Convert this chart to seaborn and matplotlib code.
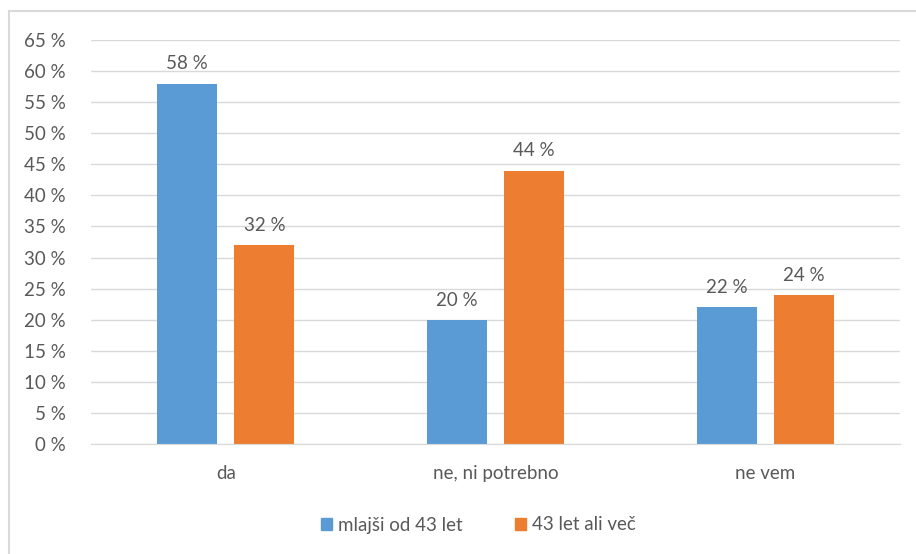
import pandas as pd
import matplotlib.pyplot as plt
import seaborn as sns
from matplotlib.patches import Rectangle, Patch

# data
categories = ['da', 'ne, ni potrebno', 'ne vem']
groups = ['mlajši od 43 let', '43 let ali več']
young = [58, 20, 22]
older = [32, 44, 24]
yticks = list(range(0, 70, 5))

df = pd.DataFrame({
    'odgovor': categories * 2,
    'skupina': [groups[0]] * 3 + [groups[1]] * 3,
    'delez': young + older,
})

sns.set_style('white')
plt.rcParams['font.family'] = ['Lato', 'DejaVu Sans']
grey = '#595959'
colors = ['#5B9BD5', '#ED7D31']
fs = 13.5

fig = plt.figure(figsize=(9.16, 5.54), dpi=100)
ax = fig.add_axes([91 / 916, 1 - 444 / 554, 809 / 916, 404 / 554])

sns.barplot(data=df, x='odgovor', y='delez', hue='skupina', order=categories,
            hue_order=groups, palette=colors, width=0.571, gap=0.22,
            saturation=1, linewidth=0, ax=ax, legend=False)

for cont in ax.containers:
    ax.bar_label(cont, labels=[f'{v:.0f} %' for v in cont.datavalues],
                 padding=8, color=grey, fontsize=fs)

ax.set_ylim(0, 65)
ax.set_yticks(yticks)
ax.set_yticklabels([f'{t} %' for t in yticks])
ax.set_xlim(-0.5, 2.5)
ax.yaxis.grid(True, color='#D9D9D9', linewidth=1)
ax.set_axisbelow(True)
for s in ax.spines.values():
    s.set_visible(False)
ax.spines['bottom'].set_visible(True)
ax.spines['bottom'].set_color('#D9D9D9')
ax.tick_params(axis='both', length=0, colors=grey, labelsize=fs)
ax.tick_params(axis='x', pad=15)
ax.tick_params(axis='y', pad=18)
ax.set_xlabel('')
ax.set_ylabel('')

handles = [Patch(color=c, label=g) for c, g in zip(colors, groups)]
fig.legend(handles=handles, loc='center', bbox_to_anchor=(478 / 916, 1 - 525 / 554),
           ncol=2, frameon=False, handlelength=0.6, handleheight=0.6,
           handletextpad=0.3, columnspacing=2.8, labelcolor=grey, fontsize=fs)

fig.patches.append(Rectangle((9 / 916, -0.1), 1.1, 0.1 + 1 - 11 / 554,
                             transform=fig.transFigure, fill=False,
                             edgecolor='#D9D9D9', linewidth=1.5))

plt.savefig('out.png', dpi=100)
